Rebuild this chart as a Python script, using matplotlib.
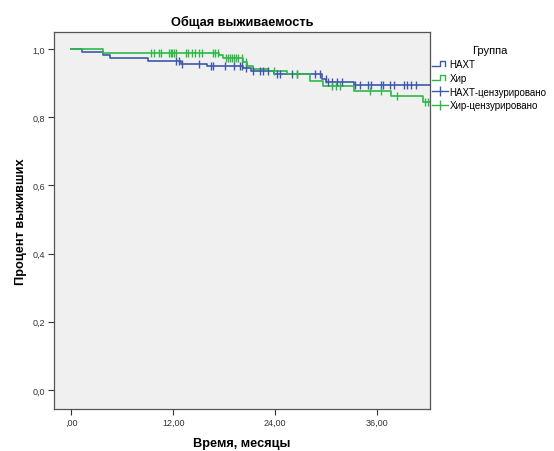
import numpy as np
import matplotlib
matplotlib.use("Agg")
from matplotlib import pyplot as plt
from matplotlib.lines import Line2D
from matplotlib.legend_handler import HandlerBase

plt.rcParams['font.family'] = ['Liberation Sans', 'DejaVu Sans']

# Kaplan-Meier steps (months, survival after the step)
naht_t = [0, 1.3, 3.8, 4.6, 9.1, 12.9, 16.0, 20.2, 21.2, 23.9, 29.5, 30.0, 33.2, 42.2]
naht_s = [1.0, 0.990, 0.982, 0.974, 0.965, 0.957, 0.951, 0.944, 0.937, 0.928, 0.912, 0.903, 0.894, 0.894]
naht_cens = [12.3, 12.7, 13.0, 15.0, 16.4, 16.7, 18.1, 19.1, 19.9, 20.1, 20.5, 21.4, 22.2,
             22.6, 23.2, 24.2, 24.6, 26.0, 26.6, 28.7, 29.3, 29.9, 30.2, 30.7, 31.3, 31.8,
             33.4, 34.0, 34.9, 35.2, 36.4, 36.6, 37.5, 37.9, 39.1, 39.5, 39.9, 40.5]

hir_t = [0, 3.8, 17.4, 17.9, 20.2, 20.7, 21.4, 23.2, 25.4, 28.1, 29.6, 33.2, 37.6, 41.4, 42.2]
hir_s = [1.0, 0.989, 0.983, 0.975, 0.962, 0.951, 0.941, 0.936, 0.927, 0.907, 0.892, 0.878, 0.861, 0.844, 0.844]
hir_cens = [9.4, 9.7, 10.3, 10.6, 11.5, 11.7, 11.9, 12.1, 12.3, 13.5, 13.8, 14.2, 14.6, 15.0,
            15.4, 16.7, 16.9, 17.3, 18.2, 18.5, 18.7, 18.9, 19.2, 19.4, 19.6, 20.1, 20.6,
            23.8, 26.6, 30.7, 31.1, 31.6, 35.1, 36.4, 38.3, 41.6, 41.9]

group_names = ["НАХТ", "Хир", "НАХТ-цензурировано", "Хир-цензурировано"]
x_ticks = [0, 12, 24, 36]
x_ticklabels = [",00", "12,00", "24,00", "36,00"]
y_ticks = [0.0, 0.2, 0.4, 0.6, 0.8, 1.0]
y_ticklabels = ["0,0", "0,2", "0,4", "0,6", "0,8", "1,0"]

blue = "#3e58ac"
green = "#2eb848"


def surv_at(tt, ss, c):
    idx = np.searchsorted(tt, c, side='right') - 1
    return np.array(ss)[idx]


class StepHandler(HandlerBase):
    def create_artists(self, legend, orig_handle, xdescent, ydescent, width, height, fontsize, trans):
        x0 = -xdescent
        y0 = -ydescent + height * 0.15
        y1 = -ydescent + height * 0.85
        xs = [x0, x0 + 0.5 * width, x0 + 0.5 * width, x0 + 0.85 * width, x0 + 0.85 * width]
        ys = [y0, y0, y1, y1, y0]
        ln = Line2D(xs, ys, color=orig_handle.get_color(), lw=1.0)
        ln.set_transform(trans)
        return [ln]


fig = plt.figure(figsize=(5.54, 4.52), dpi=100)
ax = fig.add_axes([0.0975, 0.093, 0.679, 0.834])
ax.set_facecolor("#f0f0f0")

l1, = ax.step(naht_t, naht_s, where='post', color=blue, lw=1.2)
l2, = ax.step(hir_t, hir_s, where='post', color=green, lw=1.2)
m1, = ax.plot(naht_cens, surv_at(naht_t, naht_s, naht_cens), ls='none', marker='|',
              ms=6, mew=1.0, color=blue)
m2, = ax.plot(hir_cens, surv_at(hir_t, hir_s, hir_cens), ls='none', marker='|',
              ms=6, mew=1.0, color=green)

ax.set_xlim(-2.0, 42.2)
ax.set_ylim(-0.056, 1.05)
ax.set_xticks(x_ticks)
ax.set_xticklabels(x_ticklabels)
ax.set_yticks(y_ticks)
ax.set_yticklabels(y_ticklabels)
ax.tick_params(labelsize=6.5, colors="#333333", length=4, width=0.8, pad=2.5)
for sp in ax.spines.values():
    sp.set_color("#555555")
    sp.set_linewidth(0.9)

ax.set_title("Общая выживаемость", fontsize=9.2, fontweight='bold', pad=5)
ax.set_xlabel("Время, месяцы", fontsize=9.2, fontweight='bold', labelpad=7)
ax.set_ylabel("Процент выживших", fontsize=9.2, fontweight='bold', labelpad=4)

h3 = Line2D([], [], color=blue, lw=1.0, marker='|', ms=7)
h4 = Line2D([], [], color=green, lw=1.0, marker='|', ms=7)
leg = ax.legend([l1, l2, h3, h4], group_names, title="Группа", loc='upper left',
                bbox_to_anchor=(0.995, 0.976), frameon=False, fontsize=7,
                title_fontsize=8, handlelength=1.6, handletextpad=0.2,
                labelspacing=0.4, borderaxespad=0, numpoints=1,
                handler_map={l1: StepHandler(), l2: StepHandler()})

fig.savefig("out.png", dpi=100)
